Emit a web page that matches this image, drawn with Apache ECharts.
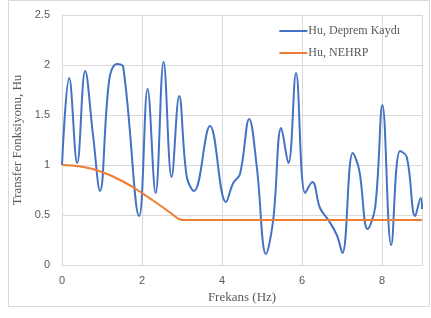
<!DOCTYPE html>
<html>
<head>
<meta charset="UTF-8"/>
<title>Transfer Fonksiyonu</title>
<script src="https://cdn.jsdelivr.net/npm/echarts@6/dist/echarts.min.js"></script>
<style>
html,body{margin:0;padding:0;background:#fff;}
#main{width:431px;height:318px;}
</style>
</head>
<body>
<div id="main"></div>
<script type="text/javascript">
// frekans (Hz) - Hu, deprem kaydi
var kayitFrek = [0, 0.18, 0.38, 0.58, 0.77, 0.95, 1.18, 1.37, 1.53, 1.93, 2.14, 2.34, 2.54, 2.74, 2.93, 3.12, 3.30, 3.70, 4.10, 4.28, 4.45,
  4.68, 4.87, 5.10, 5.28, 5.48, 5.66, 5.85, 6.08, 6.26, 6.45, 6.66, 6.87, 7.01, 7.27, 7.43, 7.64, 7.83, 8.01, 8.23, 8.45, 8.62, 8.83, 8.97, 9.0];
var kayitHu = [1.0, 1.87, 1.02, 1.94, 1.32, 0.74, 1.85, 2.01, 1.98, 0.49, 1.76, 0.72, 2.03, 0.88, 1.69, 0.88, 0.74, 1.39, 0.63, 0.82, 0.91,
  1.46, 0.98, 0.11, 0.45, 1.37, 1.02, 1.92, 0.72, 0.83, 0.57, 0.45, 0.30, 0.12, 1.12, 0.95, 0.36, 0.58, 1.60, 0.20, 1.14, 1.08, 0.49, 0.67, 0.56];
// Hu, NEHRP
var nehrpFrek = [0, 0.25, 0.5, 0.75, 1.0, 1.25, 1.5, 1.75, 2.0, 2.25, 2.5, 2.75, 2.9, 3.0, 9.0];
var nehrpHu = [1.0, 0.995, 0.983, 0.962, 0.93, 0.89, 0.84, 0.785, 0.72, 0.652, 0.582, 0.51, 0.462, 0.45, 0.45];

var xTicks = [0, 2, 4, 6, 8];
var yTicks = [0, 0.5, 1, 1.5, 2, 2.5];

function pairs(xs, ys) {
  var out = [];
  for (var i = 0; i < xs.length; i++) out.push([xs[i], ys[i]]);
  return out;
}

var myChart = echarts.init(document.getElementById('main'));
var serif = '"Liberation Serif", "DejaVu Serif", serif';
var sans = '"Liberation Sans", "DejaVu Sans", sans-serif';

var option = {
  animation: false,
  backgroundColor: '#fff',
  graphic: [{
    type: 'rect',
    shape: {x: 8.5, y: 0.5, width: 421, height: 306},
    style: {fill: 'none', stroke: '#d9d9d9', lineWidth: 1},
    silent: true
  }],
  grid: {left: 62, right: 9, top: 15, bottom: 53},
  legend: {
    right: 26, top: 20,
    orient: 'vertical',
    itemGap: 10,
    itemWidth: 28, itemHeight: 2,
    icon: 'rect',
    textStyle: {fontFamily: serif, fontSize: 12, color: '#595959', padding: [0, 0, 0, -4]},
    data: ['Hu, Deprem Kaydı', 'Hu, NEHRP']
  },
  xAxis: {
    type: 'value', min: 0, max: 9, interval: 2,
    name: 'Frekans (Hz)', nameLocation: 'middle', nameGap: 26,
    nameTextStyle: {fontFamily: serif, fontSize: 13, color: '#595959'},
    axisLine: {show: true, lineStyle: {color: '#d9d9d9'}},
    axisTick: {show: false},
    axisLabel: {fontFamily: sans, fontSize: 11, color: '#595959', margin: 10, showMaxLabel: false,
      formatter: function (v) { return xTicks.indexOf(v) >= 0 ? String(v) : ''; }},
    splitLine: {show: true, lineStyle: {color: '#d9d9d9'}}
  },
  yAxis: {
    type: 'value', min: 0, max: 2.5, interval: 0.5,
    name: 'Transfer Fonksiyonu, Hu', nameLocation: 'middle', nameGap: 27,
    nameTextStyle: {fontFamily: serif, fontSize: 13, color: '#595959'},
    axisLine: {show: true, lineStyle: {color: '#d9d9d9'}},
    axisTick: {show: false},
    axisLabel: {fontFamily: sans, fontSize: 11, color: '#595959', margin: 12,
      formatter: function (v) { return yTicks.indexOf(v) >= 0 ? String(v) : ''; }},
    splitLine: {show: true, lineStyle: {color: '#d9d9d9'}}
  },
  series: [
    {
      name: 'Hu, Deprem Kaydı', type: 'line', smooth: 0.4,
      showSymbol: false, symbol: 'none',
      lineStyle: {color: '#4472C4', width: 2},
      itemStyle: {color: '#4472C4'},
      data: pairs(kayitFrek, kayitHu)
    },
    {
      name: 'Hu, NEHRP', type: 'line', smooth: false,
      showSymbol: false, symbol: 'none',
      lineStyle: {color: '#ED7D31', width: 2},
      itemStyle: {color: '#ED7D31'},
      data: pairs(nehrpFrek, nehrpHu)
    }
  ]
};
myChart.setOption(option);
</script>
</body>
</html>
